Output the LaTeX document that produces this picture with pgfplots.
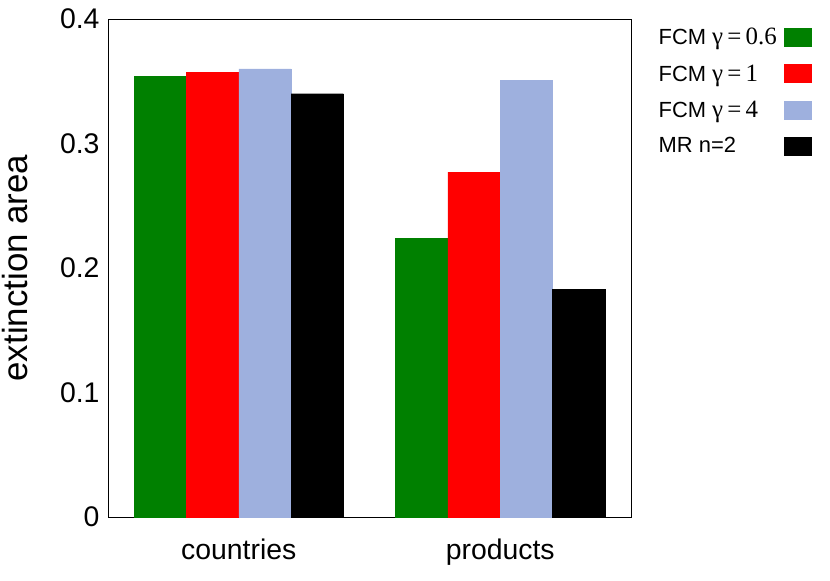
\documentclass[border=0pt]{standalone}
\usepackage{fontspec}
\setmainfont{Liberation Sans}
\newfontfamily\serif{Liberation Serif}
\usepackage{pgfplots}
\pgfplotsset{compat=1.18}
\definecolor{cgreen}{RGB}{0,128,0}
\definecolor{cred}{RGB}{255,0,0}
\definecolor{cblue}{RGB}{158,176,222}
\newcommand{\sg}[1]{{\serif\fontsize{25}{26}\selectfont γ\,=\,#1}}
\begin{document}
\begin{tikzpicture}
\useasboundingbox (0bp,0bp) rectangle (830bp,-581bp);
\begin{axis}[
 at={(108bp,-517bp)}, anchor=south west,
 width=523bp, height=498bp, scale only axis,
 ybar=0pt, bar width=0.2,
 xmin=0.5, xmax=2.5, ymin=0, ymax=0.4,
 xtick={1,2}, xticklabels={countries,products},
 ytick={0,0.1,0.2,0.3,0.4},
 major tick length=0pt,
 tick label style={font=\fontsize{28.5}{32}\selectfont},
 yticklabel style={/pgf/number format/assume math mode=true, xshift=-5bp},
 xticklabel style={yshift=-18bp},
 ylabel={extinction area},
 every axis y label/.style={at={(axis description cs:-0.154,0.5)}, anchor=base, rotate=90, font=\fontsize{35}{40}\selectfont},
 legend plot pos=right,
 legend cell align=left,
 legend image code/.code={\draw[#1] (0bp,-9bp) rectangle (27bp,9bp);},
 legend style={at={(axis description cs:1.043,0.99)}, anchor=north west, draw=none, fill=none,
   font=\fontsize{22}{26}\selectfont, row sep=14.5bp,
   /tikz/every odd column/.append style={column sep=5bp}},
]
\addplot[fill=cgreen, draw=cgreen] coordinates {(1,0.354) (2,0.224)};
\addplot[fill=cred, draw=cred] coordinates {(1,0.357) (2,0.277)};
\addplot[fill=cblue, draw=cblue] coordinates {(1,0.360) (2,0.351)};
\addplot[fill=black, draw=black] coordinates {(1,0.340) (2,0.183)};
\legend{FCM \sg{0.6}, FCM \sg{1}, FCM \sg{4}, MR n=2}
\end{axis}
\end{tikzpicture}
\end{document}
